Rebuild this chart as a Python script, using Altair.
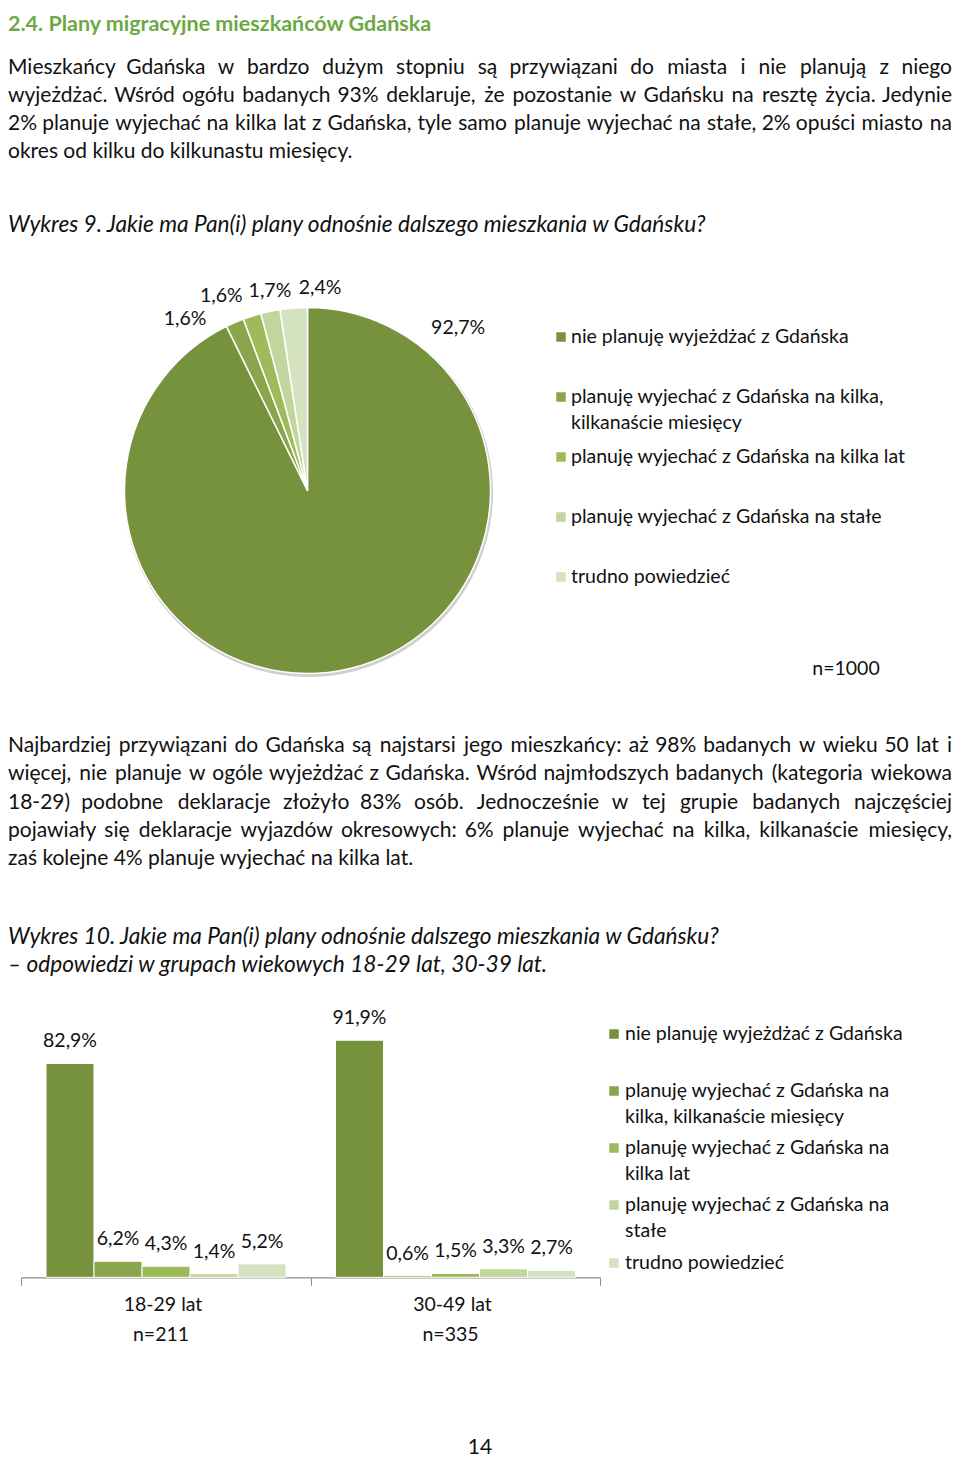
import altair as alt
import pandas as pd

# ---------------- data ----------------
CATS = [
    "nie planuję wyjeżdżać z Gdańska",
    "planuję wyjechać z Gdańska na kilka, kilkanaście miesięcy",
    "planuję wyjechać z Gdańska na kilka lat",
    "planuję wyjechać z Gdańska na stałe",
    "trudno powiedzieć",
]
COLORS = ["#76923C", "#8AA64C", "#9DBB59", "#C2D59C", "#D5E2C0"]
PIE_VALUES = [92.7, 1.6, 1.6, 1.7, 2.4]
GROUPS = ["18-29 lat", "30-49 lat"]
GROUP_N = ["n=211", "n=335"]
BAR_1829 = [82.9, 6.2, 4.3, 1.4, 5.2]
BAR_3049 = [91.9, 0.6, 1.5, 3.3, 2.7]

HEADER = "2.4. Plany migracyjne mieszkańców Gdańska"
PARA1 = [
    "Mieszkańcy Gdańska w bardzo dużym stopniu są przywiązani do miasta i nie planują z niego",
    "wyjeżdżać. Wśród ogółu badanych 93% deklaruje, że pozostanie w Gdańsku na resztę życia. Jedynie",
    "2% planuje wyjechać na kilka lat z Gdańska, tyle samo planuje wyjechać na stałe, 2% opuści miasto na",
    "okres od kilku do kilkunastu miesięcy.",
]
CAPTION1 = ["Wykres 9. Jakie ma Pan(i) plany odnośnie dalszego mieszkania w Gdańsku?"]
PARA2 = [
    "Najbardziej przywiązani do Gdańska są najstarsi jego mieszkańcy: aż 98% badanych w wieku 50 lat i",
    "więcej, nie planuje w ogóle wyjeżdżać z Gdańska. Wśród najmłodszych badanych (kategoria wiekowa",
    "18-29) podobne deklaracje złożyło 83% osób. Jednocześnie w tej grupie badanych najczęściej",
    "pojawiały się deklaracje wyjazdów okresowych: 6% planuje wyjechać na kilka, kilkanaście miesięcy,",
    "zaś kolejne 4% planuje wyjechać na kilka lat.",
]
CAPTION2 = [
    "Wykres 10. Jakie ma Pan(i) plany odnośnie dalszego mieszkania w Gdańsku?",
    "– odpowiedzi w grupach wiekowych 18-29 lat, 30-39 lat.",
]
LEGEND1 = [["nie planuję wyjeżdżać z Gdańska"],
           ["planuję wyjechać z Gdańska na kilka,", "kilkanaście miesięcy"],
           ["planuję wyjechać z Gdańska na kilka lat"],
           ["planuję wyjechać z Gdańska na stałe"],
           ["trudno powiedzieć"]]
LEGEND2 = [["nie planuję wyjeżdżać z Gdańska"],
           ["planuję wyjechać z Gdańska na", "kilka, kilkanaście miesięcy"],
           ["planuję wyjechać z Gdańska na", "kilka lat"],
           ["planuję wyjechać z Gdańska na", "stałe"],
           ["trudno powiedzieć"]]
PIE_N = "n=1000"
PAGE_NO = "14"


def pl(v):
    return f"{v:.1f}".replace(".", ",") + "%"


# ---------------- layout / style ----------------
M = 8  # page margin
FONT = "Lato"
BODY = 21.0
CAP = 22.7
SMALL = 19.5
INK = "#111111"
TEXT_LEFT, TEXT_RIGHT = 8, 952
color_scale = alt.Scale(domain=CATS, range=COLORS)

# approximate advance widths (em) used only to spread words of justified lines
_W = {
    " ": .226, "a": .479, "b": .525, "c": .423, "d": .525, "e": .498, "f": .305, "g": .471, "h": .525,
    "i": .229, "j": .239, "k": .455, "l": .229, "m": .799, "n": .525, "o": .527, "p": .525, "q": .525,
    "r": .349, "s": .391, "t": .335, "u": .525, "v": .452, "w": .715, "x": .433, "y": .453, "z": .395,
    "A": .579, "B": .544, "C": .533, "D": .615, "E": .488, "F": .459, "G": .631, "H": .623, "I": .252,
    "J": .319, "K": .520, "L": .420, "M": .855, "N": .646, "O": .662, "P": .517, "R": .543, "S": .459,
    "T": .487, "U": .642, "W": .890, "Z": .479, "%": .715, ",": .250, ".": .252, ":": .268, "(": .303,
    ")": .303, "-": .306, "–": .498, "ą": .479, "ć": .423, "ę": .498, "ł": .240, "ń": .525, "ó": .527,
    "ś": .391, "ź": .395, "ż": .395, "Ś": .459, "Ż": .479,
}
_WFACT = 1.072


def est_width(s, size):
    return sum(_W.get(ch, .507) for ch in s) * size * _WFACT


layers = []


def txt(s, x, y, size=BODY, align="left", **kw):
    return alt.Chart(pd.DataFrame({"t": [s]})).mark_text(
        align=align, baseline="middle", font=FONT, fontSize=size, color=kw.pop("color", INK), **kw
    ).encode(text="t:N", x=alt.value(x - M), y=alt.value(y - M))


def block(lines, x, y0, step, size=BODY, **kw):
    return [txt(s, x, y0 + i * step, size, **kw) for i, s in enumerate(lines)]


def justified(lines, y0, step, size=BODY):
    out = []
    W = TEXT_RIGHT - TEXT_LEFT
    for li, line in enumerate(lines):
        y = y0 + li * step
        words = line.split(" ")
        if li == len(lines) - 1 or len(words) < 2:
            out.append(txt(line, TEXT_LEFT, y, size))
            continue
        ws = [est_width(w, size) for w in words]
        gap = (W - sum(ws)) / (len(words) - 1)
        pos = TEXT_LEFT
        for wi, (w, ww) in enumerate(zip(words, ws)):
            if wi == 0:
                out.append(txt(w, TEXT_LEFT, y, size, align="left"))
            elif wi == len(words) - 1:
                out.append(txt(w, TEXT_RIGHT, y, size, align="right"))
            else:
                out.append(txt(w, pos + ww / 2, y, size, align="center"))
            pos += ww + gap
    return out


# header and paragraphs
layers.append(txt(HEADER, 8, 25, 21.5, fontWeight="bold", color="#6CA944"))
layers += justified(PARA1, 68, 28)
layers += block(CAPTION1, 8, 225, 28, size=CAP, fontStyle="italic")
layers += justified(PARA2, 746, 28.3)
layers += block(CAPTION2, 8, 937, 28, size=CAP, fontStyle="italic")
layers.append(txt(PAGE_NO, 480, 1448, align="center"))

# ---------------- pie ----------------
CX, CY, R = 307.5, 490.5, 183
pie_df = pd.DataFrame({"cat": CATS, "value": PIE_VALUES, "order": list(range(len(CATS))),
                       "label": [pl(v) for v in PIE_VALUES]})

pie = alt.Chart(pie_df).mark_arc(outerRadius=R, stroke="white", strokeWidth=1.5).encode(
    theta=alt.Theta("value:Q", stack=True),
    order=alt.Order("order:Q"),
    color=alt.Color("cat:N", scale=color_scale, legend=None),
    x=alt.value(CX - M), y=alt.value(CY - M),
)
shadow = alt.Chart(pie_df).mark_arc(outerRadius=R + 1.5, color="#d0d0d0").encode(
    theta=alt.Theta("value:Q", stack=True),
    order=alt.Order("order:Q"),
    x=alt.value(CX - M + 1), y=alt.value(CY - M + 2),
)
layers += [shadow, pie]

pie_base = alt.Chart(pie_df).transform_joinaggregate(total="sum(value)").transform_window(
    cum="sum(value)", sort=[alt.SortField("order")], frame=[None, 0]
).transform_calculate(mid="(datum.cum - datum.value / 2) / datum.total * 2 * PI")

PIE_LABEL_R = 205
PIE_LABEL_NUDGE = [(104, -362), (-41, 17), (-24, 1), (4, 1), (28, 2)]
for i, (dx, dy) in enumerate(PIE_LABEL_NUDGE):
    layers.append(
        pie_base.transform_filter(f"datum.order == {i}").mark_text(
            font=FONT, fontSize=SMALL, color=INK, align="center", baseline="middle", dx=dx, dy=dy
        ).encode(
            theta=alt.Theta("mid:Q", scale=None, stack=False),
            radius=alt.value(PIE_LABEL_R),
            x=alt.value(CX - M), y=alt.value(CY - M),
            text="label:N",
        )
    )


def legend(items, sx, tx, ys):
    out = []
    for cat, lines, y in zip(CATS, items, ys):
        out.append(
            alt.Chart(pd.DataFrame({"cat": [cat]})).mark_square(size=90, opacity=1).encode(
                x=alt.value(sx - M), y=alt.value(y - M),
                color=alt.Color("cat:N", scale=color_scale, legend=None),
            )
        )
        out += block(lines, tx, y, 25.5, SMALL)
    return out


layers += legend(LEGEND1, 561, 571, [337, 397, 457, 517, 577])
layers.append(txt(PIE_N, 846, 669, SMALL, align="center"))

# ---------------- bars ----------------
bar_df = pd.DataFrame({
    "group": [GROUPS[0]] * len(CATS) + [GROUPS[1]] * len(CATS),
    "cat": CATS * 2,
    "value": BAR_1829 + BAR_3049,
})
bar_df["label"] = [pl(v) for v in bar_df["value"]]
grp_df = pd.DataFrame({"group": GROUPS, "n": GROUP_N})

BASE_Y = 1277.3
x_scale = alt.Scale(domain=GROUPS, range=[21.25 - M, 600.25 - M], paddingInner=0, paddingOuter=0)
xo_scale = alt.Scale(domain=CATS, paddingInner=0, paddingOuter=0.516)
y_scale = alt.Scale(domain=[0, 100], range=[BASE_Y - M, BASE_Y - M - 258])
x_axis = alt.Axis(title=None, labels=False, ticks=True, tickBand="extent", grid=False,
                  domainColor="#8c8c8c", tickColor="#8c8c8c", tickSize=8, domainWidth=1.2,
                  offset=(BASE_Y - M) - 1452)

bars = alt.Chart(bar_df).mark_bar(stroke="white", strokeWidth=1).encode(
    x=alt.X("group:N", scale=x_scale, axis=x_axis, sort=GROUPS),
    xOffset=alt.XOffset("cat:N", scale=xo_scale, sort=CATS),
    y=alt.Y("value:Q", scale=y_scale, axis=None),
    color=alt.Color("cat:N", scale=color_scale, legend=None),
)
bar_labels = alt.Chart(bar_df).mark_text(font=FONT, fontSize=SMALL, color=INK, dy=-22, baseline="middle").encode(
    x=alt.X("group:N", scale=x_scale, axis=x_axis, sort=GROUPS),
    xOffset=alt.XOffset("cat:N", scale=xo_scale, sort=CATS),
    y=alt.Y("value:Q", scale=y_scale, axis=None),
    text="label:N",
)
grp_labels = alt.Chart(grp_df).mark_text(font=FONT, fontSize=SMALL, color=INK, dx=-3, baseline="middle").encode(
    x=alt.X("group:N", scale=x_scale, axis=x_axis, sort=GROUPS), y=alt.value(1305 - M), text="group:N")
n_labels = alt.Chart(grp_df).mark_text(font=FONT, fontSize=SMALL, color=INK, dx=-5, baseline="middle").encode(
    x=alt.X("group:N", scale=x_scale, axis=x_axis, sort=GROUPS), y=alt.value(1335 - M), text="n:N")
layers += [bars, bar_labels, grp_labels, n_labels]

layers += legend(LEGEND2, 614, 625, [1034, 1091, 1148, 1205, 1263])

chart = alt.layer(*layers).properties(
    width=944, height=1452, padding=0, autosize=alt.AutoSizeParams(type="none"), background="white"
).resolve_scale(theta="independent").configure_view(stroke=None)

chart.save("out.html", embed_options={"renderer": "svg", "actions": False})
